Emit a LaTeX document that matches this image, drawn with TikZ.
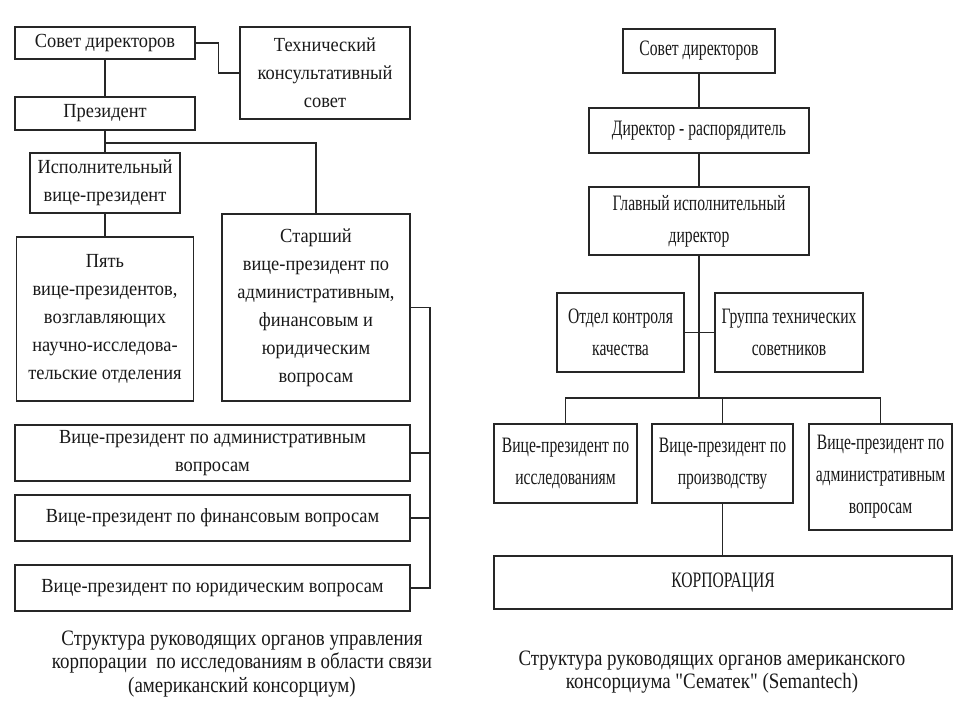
\documentclass[tikz,border=0pt]{standalone}
\usepackage{fontspec}
\setmainfont{Liberation Serif}
\newfontfamily\lfont[FakeStretch=0.92]{Liberation Serif}
\newfontfamily\rfont[FakeStretch=0.71]{Liberation Serif}
\newfontfamily\cfont[FakeStretch=0.86]{Liberation Serif}
\tikzset{
  x=1pt, y=-1pt,
  box/.style={draw=black!85, line width=1.4pt, fill=white, inner sep=0pt, align=center, text=black!90},
  lbox/.style={box, font=\lfont\fontsize{20}{28}\selectfont},
  rbox/.style={box, font=\rfont\fontsize{22}{32}\selectfont},
  con/.style={draw=black!85, line width=1.3pt},
  captext/.style={align=center, text=black!90, font=\cfont\fontsize{22}{23.5}\selectfont}
}
\begin{document}
\begin{tikzpicture}
\fill[white] (0,0) rectangle (960,720);
\useasboundingbox (0,0) rectangle (960,720);
% ---------- left chart ----------
\node[lbox, minimum width=180, minimum height=32] (sd1) at (105,43) {Совет директоров};
\node[lbox, minimum width=170, minimum height=92] (tks) at (325,73) {Технический\\консультативный\\совет};
\node[lbox, minimum width=180, minimum height=33] (pres) at (105,113.5) {Президент};
\node[lbox, minimum width=150, minimum height=60] (evp) at (105,183) {Исполнительный\\вице-президент};
\node[lbox, minimum width=177, minimum height=164] (five) at (105,319) {Пять\\вице-президентов,\\возглавляющих\\научно-исследова-\\тельские отделения};
\node[lbox, minimum width=188, minimum height=187] (svp) at (316,307.5) {Старший\\вице-президент по\\административным,\\финансовым и\\юридическим\\вопросам};
\node[lbox, minimum width=395, minimum height=56] (vpa) at (212.5,453) {Вице-президент по административным\\вопросам};
\node[lbox, minimum width=395, minimum height=46] (vpf) at (212.5,518) {Вице-президент по финансовым вопросам};
\node[lbox, minimum width=395, minimum height=46] (vpj) at (212.5,588) {Вице-президент по юридическим вопросам};
\coordinate (br) at (105,143);
\coordinate (bus) at (430,588);
\draw[con] (sd1.east) -- ++(23,0) |- (tks.west);
\draw[con] (sd1.south) -- (pres.north);
\draw[con] (pres.south) -- (evp.north);
\draw[con] (br) -| (svp.north);
\draw[con] (evp.south) -- (five.north);
\draw[con] (svp.east) -| (bus) -- (vpj.east);
\draw[con] (vpa.east) -- (vpa.east -| bus);
\draw[con] (vpf.east) -- (vpf.east -| bus);
% ---------- right chart ----------
\node[rbox, minimum width=152, minimum height=44] (sd2) at (699,51) {Совет директоров};
\node[rbox, minimum width=220, minimum height=45] (dr) at (699,130.5) {Директор - распорядитель};
\node[rbox, minimum width=220, minimum height=68] (gid) at (699,221) {Главный исполнительный\\директор};
\node[rbox, minimum width=127, minimum height=79] (okk) at (620.5,332.5) {Отдел контроля\\качества};
\node[rbox, minimum width=148, minimum height=79] (gts) at (789,332.5) {Группа технических\\советников};
\node[rbox, minimum width=143, minimum height=79] (vpr) at (565.5,463.5) {Вице-президент по\\исследованиям};
\node[rbox, minimum width=141, minimum height=79] (vpp) at (722.5,463.5) {Вице-президент по\\производству};
\node[rbox, minimum width=143, minimum height=106] (vpa2) at (880.5,477) {Вице-президент по\\административным\\вопросам};
\node[rbox, minimum width=458, minimum height=53] (corp) at (723,582.5) {КОРПОРАЦИЯ};
\coordinate (rb) at (699,398);
\draw[con] (sd2.south) -- (dr.north);
\draw[con] (dr.south) -- (gid.north);
\draw[con] (gid.south) -- (rb);
\draw[con] (okk.east) -- (gts.west);
\draw[con] (vpr.north) |- (rb) -| (vpa2.north);
\draw[con] (vpp.north) -- (vpp.north |- rb);
\draw[con] (vpp.south) -- (vpp.south |- corp.north);
% ---------- captions ----------
\node[captext] (cap1) at (242,664) {Структура руководящих органов управления\\корпорации\ \ по исследованиям в области связи\\(американский консорциум)};
\node[captext] (cap2) at (712,672) {Структура руководящих органов американского\\консорциума "Сематек" (Semantech)};
\end{tikzpicture}
\end{document}
